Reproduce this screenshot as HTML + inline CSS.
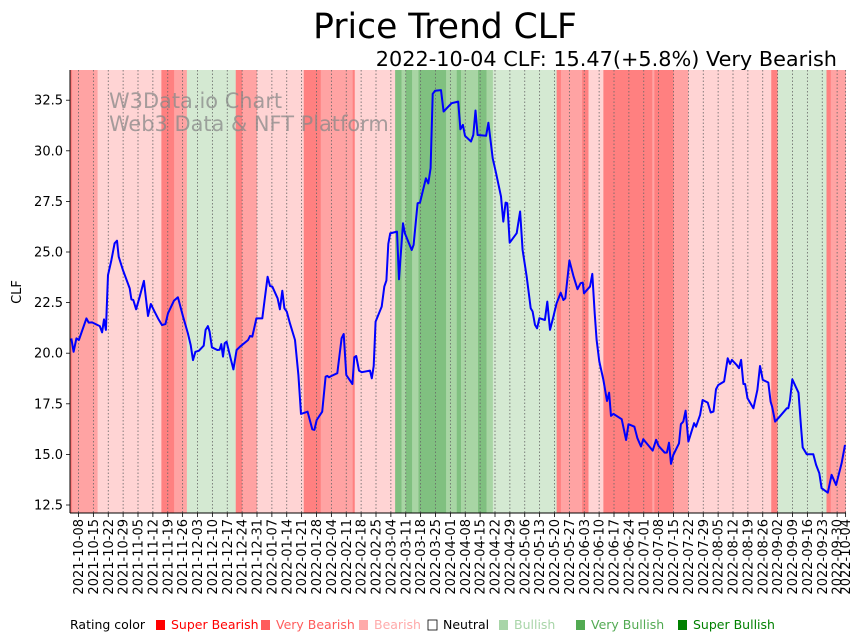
<!DOCTYPE html>
<html><head><meta charset="utf-8"><style>
body{margin:0;background:#fff;}
svg{display:block;font-family:"DejaVu Sans","Liberation Sans",sans-serif;}
</style></head><body>
<svg id="chart" width="864" height="641" viewBox="0 0 864 641" xmlns="http://www.w3.org/2000/svg">
<text x="445" y="38" font-size="34.5" text-anchor="middle">Price Trend CLF</text>
<text x="837" y="66" font-size="20.8" text-anchor="end">2022-10-04 CLF: 15.47(+5.8%) Very Bearish</text>
<g id="bands"></g>
<g id="grid"></g>
<text x="109" y="108" font-size="20.9" fill="#888" fill-opacity="0.75">W3Data.io Chart</text>
<text x="109" y="131" font-size="20.9" fill="#888" fill-opacity="0.75">Web3 Data &amp; NFT Platform</text>
<g id="line"></g>
<g id="axes"></g>
<text transform="translate(21,292) rotate(-90)" font-size="13" text-anchor="middle">CLF</text>
<g id="legend" font-size="12.5"></g>
</svg>
<script>
const bandStarts=[0,1,13,43,49,55,78,81,88,110,118,133,134,153,156,158,161,164,177,182,184,192,196,199,229,231,241,244,251,274,275,284,291,330,333,356,358];
const bandRatings=["SB","VB","B","SB","VB","BU","SB","VB","B","SB","VB","SB","B","SBU","VBU","SBU","VBU","SBU","VBU","SBU","VBU","SBU","VBU","BU","SB","VB","SB","B","SB","VB","SB","VB","B","SB","BU","SB","VB"];
const priceDays=[0.6,1.7,3,4.2,7.7,8.8,10.4,14,15.1,16,16.9,17.9,19.5,21,22.1,22.9,24.9,28.1,28.9,29.8,31.1,32.8,34.8,36.7,38,39.8,41.7,43.3,44.9,46.1,48.9,50.8,53.2,55.5,56.8,57.9,59,60.6,62.9,63.8,64.9,65.7,66.8,69.3,70.4,71.2,72,72.8,73.7,75.6,76.9,78.4,80,83.8,84.7,85.8,87.7,90.5,91.6,93,94.1,95.2,97.7,98.8,99.9,100.9,102,103.5,105.9,107.5,108.7,111.8,114,115,116.1,118.7,120.3,121.1,121.9,123.1,125.8,127.8,128.8,130,132.9,133.8,134.7,136,137.3,141.2,142,142.9,143.8,146.7,147.9,148.9,149.8,150.7,153.9,154.8,156.7,157.6,160.8,161.7,163.6,164.7,167.5,168.6,169.7,170.7,171.8,174.6,175.8,179.6,182.7,183.7,184.9,185.9,188.7,189.8,190.8,191.8,195.8,196.9,198.9,200.5,202.8,203.9,205,205.8,206.9,210.2,211.8,213,214.9,216.8,217.7,218.8,219.8,220.9,223.5,224.6,225.9,227.5,229,230.9,232.2,233.1,235,236.9,238.8,240.3,241.3,241.9,244.7,245.8,246.9,247.8,249.1,251,252.7,253.7,254.6,255.7,259.6,261.7,262.8,265.6,267,268.7,269.8,274.2,275.8,277,279.8,280.9,281.9,282.8,283.9,286.6,287.5,288.6,289.7,291,293.7,294.6,296.5,297.7,300.1,301.5,302.8,304,305.1,307.8,309.5,310.6,311.5,313.7,314.8,315.8,316.9,317.7,318.8,321.6,323.5,324.7,326,328.6,329.7,330.4,331.8,333.3,337.3,338,338.8,339.9,342.8,344,344.8,346.7,349.8,351.1,352.6,353.7,356.6,358.4,360.5,363.1,364.7];
const priceValues=[20.73,20.07,20.73,20.65,21.72,21.51,21.52,21.34,21.03,21.67,21.15,23.86,24.6,25.43,25.56,24.77,24.11,23.2,22.66,22.63,22.17,22.79,23.57,21.84,22.43,22.05,21.67,21.39,21.44,21.97,22.59,22.76,21.8,20.98,20.4,19.66,20.07,20.12,20.37,21.15,21.34,21.06,20.29,20.16,20.17,20.45,19.83,20.49,20.57,19.75,19.2,20.16,20.32,20.65,20.85,20.82,21.72,21.72,22.63,23.78,23.32,23.29,22.71,22.17,23.09,22.22,22.05,21.48,20.65,18.92,17,17.11,16.24,16.21,16.7,17.11,18.84,18.88,18.81,18.88,19.01,20.74,20.95,18.92,18.48,19.8,19.86,19.14,19.06,19.14,18.76,19.37,21.56,22.3,23.29,23.59,25.4,25.92,26.01,23.65,26.42,25.92,25.1,25.35,27.41,27.44,28.64,28.39,29.14,32.81,32.97,33,31.94,32.35,32.43,31.06,31.28,30.74,30.46,30.78,31.99,30.78,30.74,31.39,29.63,28.89,27.74,26.5,27.44,27.41,25.46,25.93,27,25.1,23.78,22.22,22.06,21.4,21.23,21.73,21.64,22.55,21.15,21.81,22.47,22.99,22.63,22.71,24.58,23.82,23.16,23.46,23.49,22.96,23.29,23.92,21.97,20.66,19.59,18.68,17.64,18.05,16.9,17,16.74,15.71,16.49,16.37,15.8,15.39,15.75,15.19,15.72,15.42,15.09,15.09,15.58,14.53,14.97,15.55,16.49,16.62,17.16,15.63,16.54,16.37,16.95,17.69,17.56,17.07,17.12,18.22,18.43,18.6,19.75,19.47,19.67,19.42,19.26,19.67,18.48,18.48,17.77,17.28,18.19,19.37,18.68,18.55,17.61,17.36,16.62,16.79,17.28,17.28,17.69,18.71,18.05,16.37,15.34,15.01,15.01,14.48,14.07,13.33,13.11,13.99,13.49,14.56,15.47];
const yTicks=[12.5,15.0,17.5,20.0,22.5,25.0,27.5,30.0,32.5];
const legendLabels=["Super Bearish","Very Bearish","Bearish","Neutral","Bullish","Very Bullish","Super Bullish"];
const legendColors=["#ff0000","#ff5c5c","#ffaaaa","none","#a8d5a8","#52aa52","#008000"];
const legendX=[155,260,358,427,498,575,677];

const NS="http://www.w3.org/2000/svg";
const X0=70,X1=846,Y0=70,Y1=513,PXD=2.125;
const startDate=Date.UTC(2021,9,4);
const TOTAL=365;
function xs(d){return X0+d*PXD;}
function ys(v){return 505-(v-12.5)*20.24;}
function mk(tag,attrs,parent){const e=document.createElementNS(NS,tag);for(const k in attrs)e.setAttribute(k,attrs[k]);parent.appendChild(e);return e;}
const bandColor={SB:"#ff8080",VB:"#ffa3a3",B:"#ffd4d4",BU:"#d4e9d2",VBU:"#a8d5a4",SBU:"#80c080"};

const bands=document.getElementById('bands');
for(let i=0;i<bandStarts.length;i++){
  const s=bandStarts[i],e=i+1<bandStarts.length?bandStarts[i+1]:TOTAL;
  const r=mk('rect',{x:xs(s),y:Y0,width:xs(e)-xs(s)+0.3,height:Y1-Y0,fill:bandColor[bandRatings[i]]},bands);
  
  
}
const grid=document.getElementById('grid'),axes=document.getElementById('axes');
const tickDays=[];for(let d=4;d<=361;d+=7)tickDays.push(d);tickDays.push(365);
function fmt(d){const t=new Date(startDate+d*86400000);return t.toISOString().slice(0,10);}
tickDays.forEach(d=>{
  const x=xs(d);
  const g=mk('line',{x1:x,x2:x,y1:Y0,y2:Y1,stroke:"#666","stroke-width":0.8,"stroke-dasharray":"1.5,2"},grid);
  
  
  mk('line',{x1:x,x2:x,y1:Y1,y2:Y1+4,stroke:"#000","stroke-width":0.8},axes);
  const t=mk('text',{transform:`translate(${x+4.5},${Y1+6}) rotate(-90)`,"font-size":13,"text-anchor":"end"},axes);
  t.textContent=fmt(d);
  
  
});
yTicks.forEach(v=>{
  const y=ys(v);
  mk('line',{x1:X0-4,x2:X0,y1:y,y2:y,stroke:"#000","stroke-width":0.8},axes);
  const t=mk('text',{x:X0-7,y:y+4.5,"font-size":13,"text-anchor":"end"},axes);
  t.textContent=v.toFixed(1);
  
  
});
mk('line',{x1:X0,x2:X0,y1:Y0,y2:Y1,stroke:"#000","stroke-width":1},axes);
mk('line',{x1:X0,x2:X1,y1:Y1,y2:Y1,stroke:"#000","stroke-width":1},axes);
const pts=priceDays.map((d,i)=>xs(d).toFixed(1)+","+ys(priceValues[i]).toFixed(1)).join(" ");
const pl=mk('polyline',{points:pts,fill:"none",stroke:"#0000ff","stroke-width":2,"stroke-linejoin":"round"},document.getElementById('line'));


const lg=document.getElementById('legend');
const lt=mk('text',{x:70,y:629},lg);lt.textContent="Rating color";


legendLabels.forEach((l,i)=>{
  const x=legendX[i];
  const c=legendColors[i];
  const r=mk('rect',{x:x+1,y:620,width:9,height:10,fill:c==="none"?"#fff":c,stroke:c==="none"?"#000":"none","stroke-width":0.8},lg);
  
  
  const t=mk('text',{x:x+16,y:629,fill:c==="none"?"#000":c},lg);
  t.textContent=l;
  
  
});
</script>
</body></html>
